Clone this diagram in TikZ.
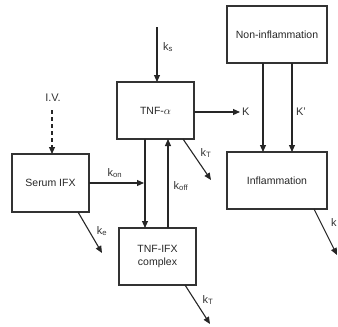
\documentclass[tikz,border=0pt]{standalone}
\usepackage{fontspec}
\setmainfont{Liberation Sans}
\usetikzlibrary{arrows.meta}
\begin{document}
\begin{tikzpicture}[x=1pt,y=-1pt,
  box/.style={draw=black!80,line width=1.3pt,inner sep=0pt},
  arr/.style={draw=black!85,line width=1.1pt,-{Triangle[length=7pt,width=6pt]}},
  dasharr/.style={arr,dash pattern=on 4pt off 3pt},
  lbl/.style={font=\fontsize{11}{13}\selectfont,inner sep=0pt,text=black!80},
  btxt/.style={font=\fontsize{10.5}{12}\selectfont,text=black!85,align=center}]
\useasboundingbox (0,0) rectangle (338,327);
% boxes
\draw[box] (117,82) rectangle (194,139);
\node[btxt] (tnf) at (155.5,110.5) {TNF-$\alpha$};
\coordinate (tnfR) at (194,112);
\draw[box] (227,6) rectangle (327,63);
\node[btxt] (non) at (277,34.5) {Non-inflammation};
\draw[box] (227,152) rectangle (327,209);
\node[btxt] (inf) at (277,180.5) {Inflammation};
\draw[box] (12,154) rectangle (89,212);
\node[btxt] (ser) at (50.5,183) {Serum IFX};
\draw[box] (119,228) rectangle (196,285);
\node[btxt,font=\fontsize{10.5}{13.5}\selectfont] (cpx) at (157.5,256.5) {TNF-IFX\\complex};
% coordinates
\coordinate (ksTop) at (157,27);
\coordinate (tnfTop) at (157,82);
\node[lbl] (iv) at (53,98) {I.V.};
\coordinate (ivS) at (52,110);
\coordinate (serTop) at (52,154);
\coordinate (kEnd) at (240,112);
\node[lbl,anchor=west] (K) at (242,112) {K};
\coordinate (n1) at (263,63);
\coordinate (i1) at (263,152);
\coordinate (n2) at (292,63);
\coordinate (i2) at (292,152);
\node[lbl] (Kp) at (301,112) {K'};
\coordinate (d1) at (145,139);
\coordinate (d2) at (145,228);
\coordinate (u1) at (168,228);
\coordinate (u2) at (168,139);
\coordinate (serR) at (89,183);
\coordinate (onEnd) at (144,183);
\node[lbl] (kon) at (115,173) {k$_{\mathrm{on}}$};
\node[lbl] (koff) at (181,186) {k$_{\mathrm{off}}$};
\coordinate (t1) at (183,139);
\coordinate (t2) at (211,180);
\node[lbl] (kT1) at (206,153) {k$_{\mathrm{T}}$};
\coordinate (e1) at (78,212);
\coordinate (e2) at (102,253);
\node[lbl] (ke) at (102,231) {k$_{\mathrm{e}}$};
\coordinate (f1) at (314,209);
\coordinate (f2) at (337,255);
\node[lbl,anchor=west] (kf) at (331,223) {k};
\coordinate (c1) at (185,285);
\coordinate (c2) at (210,324);
\node[lbl] (kT2) at (208,300) {k$_{\mathrm{T}}$};
\node[lbl] (ks) at (168,47) {k$_{\mathrm{s}}$};
% arrows
\draw[arr] (ksTop) -- (tnfTop);
\draw[dasharr] (ivS) -- (serTop);
\draw[arr] (tnfR) -- (kEnd);
\draw[arr] (n1) -- (i1);
\draw[arr] (n2) -- (i2);
\draw[arr] (d1) -- (d2);
\draw[arr] (u1) -- (u2);
\draw[arr] (serR) -- (onEnd);
\draw[arr] (t1) -- (t2);
\draw[arr] (e1) -- (e2);
\draw[arr] (f1) -- (f2);
\draw[arr] (c1) -- (c2);
\end{tikzpicture}
\end{document}
